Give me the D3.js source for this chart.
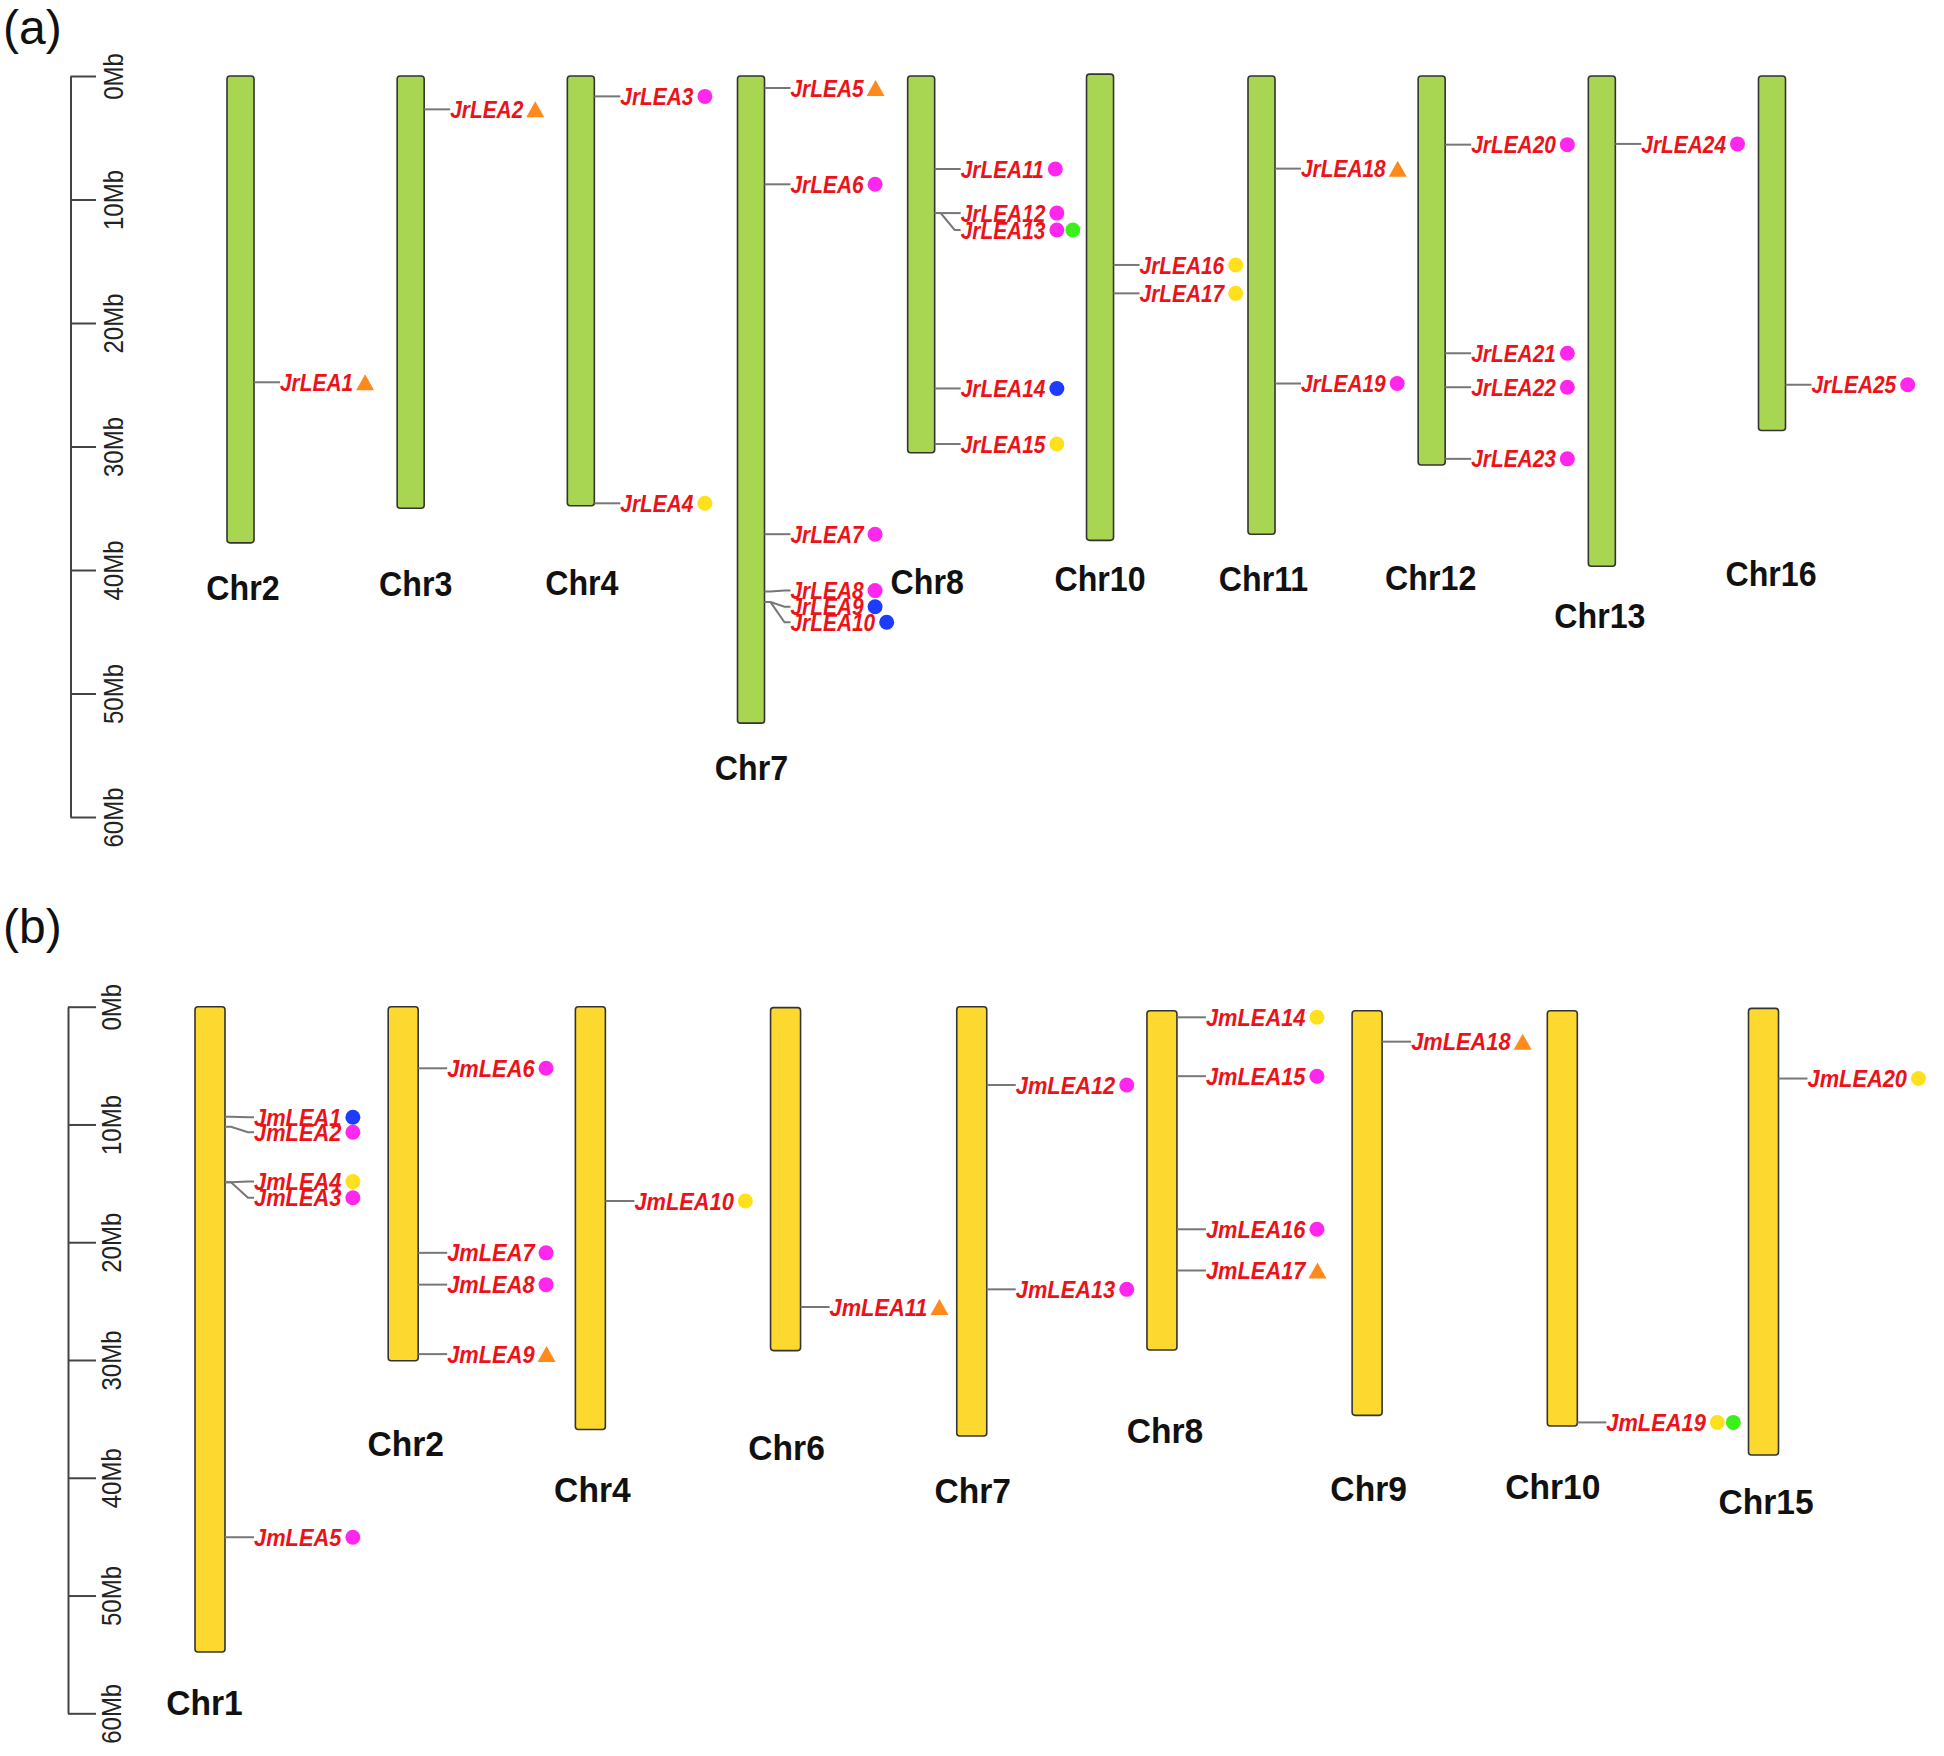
<!DOCTYPE html>
<html><head><meta charset="utf-8">
<script src="https://cdn.jsdelivr.net/npm/d3@7"></script>
<style>
html,body{margin:0;padding:0;background:#fff;}
svg{display:block;}
</style></head><body>
<svg id="chart" width="1944" height="1756"></svg>
<script>
// ---------------- DATA ----------------
const tickMb = [0, 10, 20, 30, 40, 50, 60];

// Panel (a) Juglans regia
const chrA = ["Chr2","Chr3","Chr4","Chr7","Chr8","Chr10","Chr11","Chr12","Chr13","Chr16"];
const chrStartA = [0, 0, 0, 0, 0, -0.15, 0, 0, 0, 0];
const chrEndA = [37.8, 35.0, 34.8, 52.4, 30.5, 37.6, 37.1, 31.5, 39.7, 28.7];
const geneA = ["JrLEA1","JrLEA2","JrLEA3","JrLEA4","JrLEA5","JrLEA6","JrLEA7","JrLEA8","JrLEA9","JrLEA10",
  "JrLEA11","JrLEA12","JrLEA13","JrLEA14","JrLEA15","JrLEA16","JrLEA17","JrLEA18","JrLEA19","JrLEA20",
  "JrLEA21","JrLEA22","JrLEA23","JrLEA24","JrLEA25"];
const geneChrA = ["Chr2","Chr3","Chr4","Chr4","Chr7","Chr7","Chr7","Chr7","Chr7","Chr7",
  "Chr8","Chr8","Chr8","Chr8","Chr8","Chr10","Chr10","Chr11","Chr11","Chr12",
  "Chr12","Chr12","Chr12","Chr13","Chr16"];
const genePosA = [24.8, 2.7, 1.65, 34.6, 0.97, 8.77, 37.1, 41.75, 42.6, 42.6,
  7.53, 11.1, 11.1, 25.3, 29.8, 15.3, 17.6, 7.5, 24.9, 5.56,
  22.45, 25.2, 31.0, 5.5, 25.0];
const geneLabelPosA = [24.8, 2.7, 1.65, 34.6, 0.97, 8.77, 37.1, 41.67, 42.97, 44.23,
  7.53, 11.1, 12.47, 25.3, 29.8, 15.3, 17.6, 7.5, 24.9, 5.56,
  22.45, 25.2, 31.0, 5.5, 25.0];
const geneTypeA = ["T","T","M","Y","T","M","M","M","B","B",
  "M","M","MG","B","Y","Y","Y","T","M","M",
  "M","M","M","M","M"];

// Panel (b) Juglans mandshurica
const chrB = ["Chr1","Chr2","Chr4","Chr6","Chr7","Chr8","Chr9","Chr10","Chr15"];
const chrStartB = [0, 0, 0, 0.08, 0, 0.34, 0.34, 0.34, 0.14];
const chrEndB = [54.8, 30.06, 35.9, 29.2, 36.45, 29.15, 34.7, 35.6, 38.07];
const geneB = ["JmLEA1","JmLEA2","JmLEA3","JmLEA4","JmLEA5","JmLEA6","JmLEA7","JmLEA8","JmLEA9","JmLEA10",
  "JmLEA11","JmLEA12","JmLEA13","JmLEA14","JmLEA15","JmLEA16","JmLEA17","JmLEA18","JmLEA19","JmLEA20"];
const geneChrB = ["Chr1","Chr1","Chr1","Chr1","Chr1","Chr2","Chr2","Chr2","Chr2","Chr4",
  "Chr6","Chr7","Chr7","Chr8","Chr8","Chr8","Chr8","Chr9","Chr10","Chr15"];
const genePosB = [9.34, 10.19, 14.9, 14.9, 45.05, 5.23, 20.9, 23.6, 29.5, 16.5,
  25.5, 6.65, 24.0, 0.9, 5.9, 18.9, 22.4, 2.97, 35.3, 6.1];
const geneLabelPosB = [9.39, 10.66, 16.22, 14.85, 45.05, 5.23, 20.9, 23.6, 29.5, 16.5,
  25.5, 6.65, 24.0, 0.9, 5.9, 18.9, 22.4, 2.97, 35.3, 6.1];
const geneTypeB = ["B","M","M","Y","M","M","M","M","T","Y",
  "T","M","M","Y","M","M","T","T","YG","Y"];

// ---------------- STYLE / LAYOUT ----------------
const markColor = {T:"#ff8a1c", M:"#ff27ee", Y:"#ffe01c", B:"#1e3cff", G:"#3cf01c"};
const labelRed = "#ec1219";
const FONT = "'Liberation Sans', Arial, Helvetica, sans-serif";

const layoutA = {chrs:chrA, starts:chrStartA, ends:chrEndA, genes:geneA, geneChr:geneChrA, genePos:genePosA,
  geneLab:geneLabelPosA, geneType:geneTypeA,
  yRange:[76,817], xRange:[240.5,1772], nudge:[0,0,0,0,0,8.7,0,0,0,0], barW:27, fill:"#a8d653",
  line:26, axisX:70.5, tickLen:25.5, tickLabelX:122.5, chrLabelDx:[2.5,5,1,0.5,6,0,2,-1,-2,-1],
  chrLabelY:[600,596,595,780,594,591,591,590,628,586], chrSx:0.92, geneSx:0.87, tag:"(a)", tagY:44};
const layoutB = {chrs:chrB, starts:chrStartB, ends:chrEndB, genes:geneB, geneChr:geneChrB, genePos:genePosB,
  geneLab:geneLabelPosB, geneType:geneTypeB,
  yRange:[1006.7,1713.3], xRange:[210,1763.5], nudge:[0,-1,-8,-7,-15,-19,-8,-7,0], barW:30, fill:"#fdd82f",
  line:29, axisX:68, tickLen:28, tickLabelX:120.5, chrLabelDx:[-5.5,2.5,2,1,1,3,1.5,-9.5,2.5],
  chrLabelY:[1715,1456,1502,1460,1503,1443,1501,1499,1514], chrSx:0.96, geneSx:0.91, tag:"(b)", tagY:943};

const svg = d3.select("#chart");
svg.append("rect").attr("width",1944).attr("height",1756).attr("fill","#fff");

function drawPanel(L) {
  const g = svg.append("g");
  const y = d3.scaleLinear().domain([0, 60]).range(L.yRange);
  const x = d3.scalePoint().domain(L.chrs).range(L.xRange);
  const cx = c => x(c) + L.nudge[L.chrs.indexOf(c)];

  // panel tag
  g.append("text").attr("x", 3).attr("y", L.tagY).text(L.tag)
    .attr("font-family", FONT).attr("font-size", 48).attr("fill", "#111");

  // scale axis
  const axis = d3.axisRight(y).tickValues(tickMb).tickSize(L.tickLen).tickSizeOuter(0)
    .tickFormat(d => d + "Mb");
  const ag = g.append("g").attr("transform", `translate(${L.axisX},0)`).call(axis);
  ag.select(".domain").attr("stroke", "#444").attr("stroke-width", 2);
  ag.selectAll(".tick line").attr("stroke", "#444").attr("stroke-width", 2);
  ag.selectAll(".tick text")
    .attr("x", 0).attr("dy", 0)
    .attr("transform", `translate(${L.tickLabelX - L.axisX},0) rotate(-90) scale(1,1.15)`)
    .attr("text-anchor", "middle")
    .attr("font-family", FONT).attr("font-size", 24).attr("font-weight", "normal").attr("fill", "#222");

  // chromosomes
  g.selectAll("rect.chr").data(L.chrs).join("rect").attr("class", "chr")
    .attr("x", d => cx(d) - L.barW / 2)
    .attr("y", (d, i) => y(L.starts[i]))
    .attr("width", L.barW)
    .attr("height", (d, i) => y(L.ends[i]) - y(L.starts[i]))
    .attr("rx", 3).attr("ry", 3)
    .attr("fill", L.fill).attr("stroke", "#333").attr("stroke-width", 1.6);

  // chromosome names
  g.selectAll("text.chrname").data(L.chrs).join("text").attr("class", "chrname")
    .attr("transform", (d, i) => `translate(${cx(d) + L.chrLabelDx[i]},${L.chrLabelY[i]}) scale(${L.chrSx},1)`)
    .attr("text-anchor", "middle")
    .attr("font-family", FONT).attr("font-weight", "bold").attr("font-size", 35).attr("fill", "#111")
    .text(d => d);

  // genes
  const genes = L.genes.map((name, i) => ({
    name, chr: L.geneChr[i], ya: y(L.genePos[i]), yl: y(L.geneLab[i]), type: L.geneType[i]
  }));
  genes.forEach(d => {
    d.x0 = cx(d.chr) + L.barW / 2;
    d.x1 = d.x0 + L.line;
  });

  g.selectAll("path.conn").data(genes).join("path").attr("class", "conn")
    .attr("d", d => `M${d.x0},${d.ya}H${d.x0 + 6}L${d.x1 - 6},${d.yl}H${d.x1}`)
    .attr("fill", "none").attr("stroke", "#777").attr("stroke-width", 2);

  const labels = g.selectAll("text.gene").data(genes).join("text").attr("class", "gene")
    .attr("transform", d => `translate(${d.x1},${d.yl + 8.6}) scale(${L.geneSx},1)`)
    .attr("font-family", FONT).attr("font-weight", "bold").attr("font-style", "italic")
    .attr("font-size", 24).attr("fill", labelRed)
    .text(d => d.name);
  labels.each(function (d) { d.x2 = d.x1 + this.getComputedTextLength() * L.geneSx; });

  const marks = [];
  genes.forEach(d => {
    let pos = d.x2;
    d.type.split("").forEach((t, k) => {
      if (t === "T") { marks.push({t, cx: pos + 3 + 9, cy: d.yl}); pos += 3 + 18; }
      else { marks.push({t, cx: pos + (k === 0 ? 4 : 1) + 7.5, cy: d.yl}); pos += (k === 0 ? 4 : 1) + 15; }
    });
  });
  g.selectAll("circle.mk").data(marks.filter(m => m.t !== "T")).join("circle").attr("class", "mk")
    .attr("cx", d => d.cx).attr("cy", d => d.cy).attr("r", 7.5)
    .attr("fill", d => markColor[d.t]);
  g.selectAll("path.tri").data(marks.filter(m => m.t === "T")).join("path").attr("class", "tri")
    .attr("d", d => `M${d.cx - 9},${d.cy + 8}L${d.cx + 9},${d.cy + 8}L${d.cx},${d.cy - 8}Z`)
    .attr("fill", markColor.T);
}

drawPanel(layoutA);
drawPanel(layoutB);
</script>
</body></html>
